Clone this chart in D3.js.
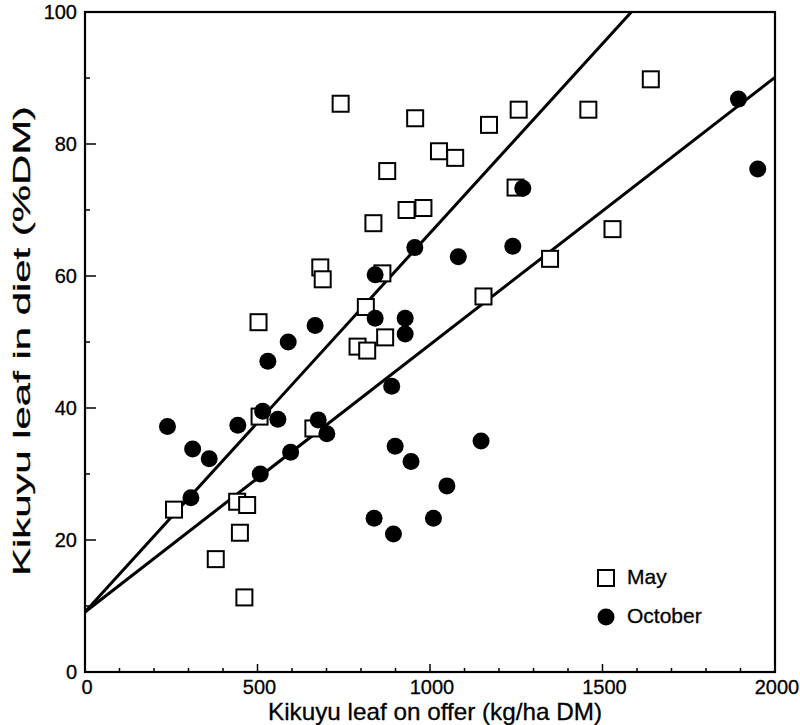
<!DOCTYPE html>
<html><head><meta charset="utf-8">
<script src="https://cdn.jsdelivr.net/npm/d3@7/dist/d3.min.js"></script>
<style>
html,body{margin:0;padding:0;background:#fff;}
text{font-family:"Liberation Sans",Arial,Helvetica,sans-serif;fill:#000;stroke:#000;stroke-width:0.3;}
</style></head>
<body><svg id="c" width="800" height="725"></svg>
<script>
// Data (x: kg/ha DM leaf on offer, y: % leaf in diet)
const mayX = [258,441,470,449,379,462,506,503,741,682,689,662,814,790,818,870,836,862,876,932,981,957,1026,1073,1171,1257,1248,1155,1348,1459,1529,1640];
const mayY = [24.6,25.8,25.3,21.1,17.1,11.3,38.7,53.0,86.1,61.3,59.5,36.9,55.3,49.3,48.7,50.7,68.0,60.4,75.9,70.0,70.3,83.9,78.9,77.9,82.9,85.2,73.4,56.9,62.6,85.2,67.1,89.8];
const octX = [239,312,360,307,443,515,508,559,530,589,596,667,676,701,841,841,956,928,928,889,899,945,838,894,1010,1049,1148,1082,1240,1269,1894,1950];
const octY = [37.2,33.8,32.3,26.4,37.4,39.5,30.0,38.3,47.1,50.0,33.3,52.5,38.2,36.1,60.2,53.6,64.3,53.6,51.2,43.3,34.2,31.9,23.3,20.9,23.3,28.2,35.0,62.9,64.5,73.3,86.8,76.2];
// regression lines: [intercept, slope]
const mayFit = [9.1, 0.0574];
const octFit = [9.1, 0.0405];
const xTicks = [0,500,1000,1500,2000];
const yTicks = [0,20,40,60,80,100];
const legendLabels = ["May","October"];

const svg = d3.select("#c");
const L=85, R=775, T=12, B=672;
const x = d3.scaleLinear().domain([0,2000]).range([L,R]);
const y = d3.scaleLinear().domain([0,100]).range([B,T]);

svg.append("clipPath").attr("id","clip").append("rect")
  .attr("x",L).attr("y",T).attr("width",R-L).attr("height",B-T);

const g = svg.append("g");
g.selectAll(".xt").data(d3.range(0,2001,100)).enter().append("line")
  .attr("x1",d=>x(d)).attr("x2",d=>x(d)).attr("y1",B).attr("y2",d=>B-(d%500===0?8:4))
  .attr("stroke","#000").attr("stroke-width",1.5);
g.selectAll(".yt").data(d3.range(0,101,10)).enter().append("line")
  .attr("y1",d=>y(d)).attr("y2",d=>y(d)).attr("x1",L).attr("x2",d=>L+(d%20===0?11:5))
  .attr("stroke","#000").attr("stroke-width",1.5);

// frame
svg.append("rect").attr("x",L).attr("y",T).attr("width",R-L).attr("height",B-T)
  .attr("fill","none").attr("stroke","#000").attr("stroke-width",2.2);

// tick labels
svg.selectAll(".xl").data(xTicks).enter().append("text")
  .attr("x",d=>x(d)+2).attr("y",B+22).attr("text-anchor","middle")
  .attr("font-size",20).text(d=>d);
svg.selectAll(".yl").data(yTicks).enter().append("text")
  .attr("x",L-8).attr("y",d=>y(d)+7).attr("text-anchor","end")
  .attr("font-size",20).text(d=>d);

// axis titles
svg.append("text").attr("x",435).attr("y",720).attr("text-anchor","middle")
  .attr("font-size",24).attr("textLength",334).attr("lengthAdjust","spacingAndGlyphs")
  .text("Kikuyu leaf on offer (kg/ha DM)");
svg.append("text").attr("transform","translate(30,341) rotate(-90)").attr("text-anchor","middle")
  .attr("font-size",24).attr("textLength",470).attr("lengthAdjust","spacingAndGlyphs")
  .text("Kikuyu leaf in diet (%DM)");

// regression lines
const lineG = svg.append("g").attr("clip-path","url(#clip)");
[mayFit, octFit].forEach(f=>{
  lineG.append("line").attr("x1",x(0)).attr("y1",y(f[0]))
    .attr("x2",x(2000)).attr("y2",y(f[0]+f[1]*2000))
    .attr("stroke","#000").attr("stroke-width",3);
});

// points
const S=16, r=8.5;
const may = d3.range(mayX.length).map(i=>({x:mayX[i],y:mayY[i]}));
const oct = d3.range(octX.length).map(i=>({x:octX[i],y:octY[i]}));
svg.append("g").selectAll("rect").data(may).enter().append("rect")
  .attr("x",d=>x(d.x)-S/2).attr("y",d=>y(d.y)-S/2).attr("width",S).attr("height",S)
  .attr("fill","#fff").attr("stroke","#000").attr("stroke-width",2);
svg.append("g").selectAll("circle").data(oct).enter().append("circle")
  .attr("cx",d=>x(d.x)).attr("cy",d=>y(d.y)).attr("r",r).attr("fill","#000");

// legend
const lg = svg.append("g");
lg.append("rect").attr("x",606-S/2).attr("y",578-S/2).attr("width",S).attr("height",S)
  .attr("fill","#fff").attr("stroke","#000").attr("stroke-width",2);
lg.append("circle").attr("cx",606).attr("cy",617).attr("r",r).attr("fill","#000");
lg.selectAll("text").data(legendLabels).enter().append("text")
  .attr("x",627).attr("y",(d,i)=>584+i*39).attr("font-size",21).text(d=>d);
</script></body></html>
